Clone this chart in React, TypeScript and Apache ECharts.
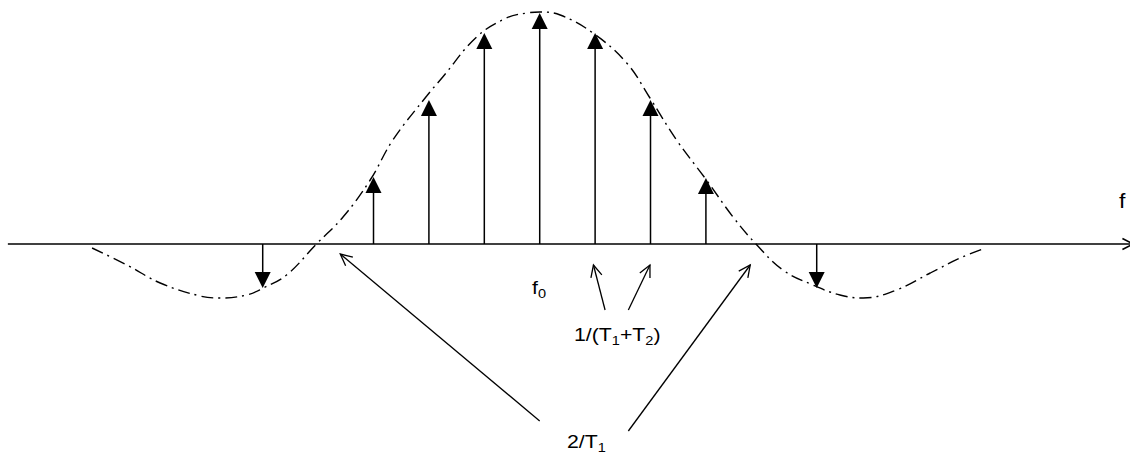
import React, { useEffect, useRef } from "react";
import * as echarts from "echarts";

// Spectral lines: offset from f0 in units of 1/(T1+T2), and amplitude
const lineOffsets = [-5, -3, -2, -1, 0, 1, 2, 3, 5];
const lineAmplitudes = [-44, 67, 144, 211, 231, 211, 144, 66, -44];

// Envelope (dash-dot)
const envelopeOffsets = [
  -8.08, -7.45, -6.85, -6.13, -5.77, -5.29, -4.99, -4.57, -4.03, -3.55, -3.06,
  -2.65, -2.04, -1.75, -1.14, -0.6, -0.23, 0, 0.37, 0.96, 1.57, 1.99, 2.47,
  3.01, 3.49, 3.92, 4.39, 4.93, 5.42, 5.84, 6.44, 7.05, 7.59, 8.0,
];
const envelopeValues = [
  -4, -21, -39, -52, -54, -51, -44, -31, 0, 27, 64, 104, 148, 167, 207, 226,
  231, 232, 229, 211, 181, 146, 104, 64, 27, -1, -26, -41, -51, -54, -46, -29,
  -14, -5,
];

// Frequency axis extent
const axisStart = -9.6;
const axisEnd = 10.71;

// Annotation arrows (tail -> tip)
const arrowFromK = [0, 1.6, 1.18, 1.6];
const arrowFromA = [-177, -187, -66, -66];
const arrowToK = [-3.6, 3.8, 0.97, 1.99];
const arrowToA = [-10, -21, -21, -21];

const X_MIN = -9.742;
const X_MAX = 10.655;
const Y_MIN = -214;
const Y_MAX = 244;

const FONT = '"Liberation Sans", Arial, Helvetica, sans-serif';

function openHead(tip: number[], tail: number[], len: number, ang: number) {
  const dx = tail[0] - tip[0];
  const dy = tail[1] - tip[1];
  const d = Math.sqrt(dx * dx + dy * dy) || 1;
  const ux = dx / d;
  const uy = dy / d;
  const rot = (a: number) => [
    tip[0] + len * (ux * Math.cos(a) - uy * Math.sin(a)),
    tip[1] + len * (ux * Math.sin(a) + uy * Math.cos(a)),
  ];
  return [rot(ang), tip, rot(-ang)];
}

export default function App() {
  const ref = useRef<HTMLDivElement>(null);
  useEffect(() => {
    if (!ref.current) return;
    const chart = echarts.init(ref.current, undefined, { renderer: "svg" });
    const stroke = "#000";
    const sub = { fontSize: 13, fontFamily: FONT, fill: stroke, padding: [14, 0, 0, 0] };
    chart.setOption({
      animation: false,
      backgroundColor: "#fff",
      grid: { left: 0, right: 0, top: 0, bottom: 0, containLabel: false },
      xAxis: { type: "value", min: X_MIN, max: X_MAX, show: false },
      yAxis: { type: "value", min: Y_MIN, max: Y_MAX, show: false },
      series: [
        {
          type: "custom",
          clip: false,
          silent: true,
          data: [[axisStart, 0, axisEnd, 0]],
          encode: { x: [0, 2], y: [1, 3] },
          renderItem: (params: any, api: any) => {
            const a = api.coord([api.value(0), api.value(1)]);
            const b = api.coord([api.value(2), api.value(3)]);
            return {
              type: "group",
              children: [
                {
                  type: "line",
                  shape: { x1: a[0], y1: a[1], x2: b[0], y2: b[1] },
                  style: { stroke, lineWidth: 1.7 },
                },
                {
                  type: "polyline",
                  shape: { points: openHead(b, a, 12, Math.PI / 6.5) },
                  style: { stroke, lineWidth: 1.6, fill: "none" },
                },
              ],
            };
          },
        },
        {
          type: "line",
          data: envelopeOffsets.map((k, i) => [k, envelopeValues[i]]),
          smooth: 0.4,
          symbol: "none",
          silent: true,
          lineStyle: { color: stroke, width: 1.4, type: [12, 5, 2, 5] },
        },
        {
          type: "custom",
          clip: false,
          silent: true,
          data: lineOffsets.map((k, i) => [k, lineAmplitudes[i]]),
          encode: { x: 0, y: 1 },
          renderItem: (params: any, api: any) => {
            const k = api.value(0);
            const v = api.value(1);
            const base = api.coord([k, 0]);
            const tip = api.coord([k, v]);
            const dir = tip[1] < base[1] ? -1 : 1;
            const headH = 16;
            const headW = 8;
            const hb = tip[1] - dir * headH;
            return {
              type: "group",
              children: [
                {
                  type: "line",
                  shape: { x1: base[0], y1: base[1], x2: tip[0], y2: hb },
                  style: { stroke, lineWidth: 1.5 },
                },
                {
                  type: "polygon",
                  shape: {
                    points: [
                      [tip[0], tip[1]],
                      [tip[0] - headW, hb],
                      [tip[0] + headW, hb],
                    ],
                  },
                  style: { fill: stroke },
                },
              ],
            };
          },
        },
        {
          type: "custom",
          clip: false,
          silent: true,
          data: arrowFromK.map((k, i) => [k, arrowFromA[i], arrowToK[i], arrowToA[i]]),
          encode: { x: [0, 2], y: [1, 3] },
          renderItem: (params: any, api: any) => {
            const a = api.coord([api.value(0), api.value(1)]);
            const b = api.coord([api.value(2), api.value(3)]);
            return {
              type: "group",
              children: [
                {
                  type: "line",
                  shape: { x1: a[0], y1: a[1], x2: b[0], y2: b[1] },
                  style: { stroke, lineWidth: 1.3 },
                },
                {
                  type: "polyline",
                  shape: { points: openHead(b, a, 13, Math.PI / 7) },
                  style: { stroke, lineWidth: 1.3, fill: "none" },
                },
              ],
            };
          },
        },
      ],
      graphic: [
        {
          type: "text",
          x: 1119,
          y: 201,
          scaleX: 1.1,
          style: {
            text: "f",
            fontSize: 21,
            fontFamily: FONT,
            fill: stroke,
            verticalAlign: "middle",
            align: "left",
          },
        },
        {
          type: "text",
          x: 532,
          y: 287,
          scaleX: 1.12,
          style: {
            text: "f{s|0}",
            fontSize: 19,
            fontFamily: FONT,
            fill: stroke,
            verticalAlign: "middle",
            align: "left",
            rich: { s: sub },
          },
        },
        {
          type: "text",
          x: 574,
          y: 334,
          scaleX: 1.12,
          style: {
            text: "1/(T{s|1}+T{s|2})",
            fontSize: 19,
            fontFamily: FONT,
            fill: stroke,
            verticalAlign: "middle",
            align: "left",
            rich: { s: sub },
          },
        },
        {
          type: "text",
          x: 567,
          y: 441,
          scaleX: 1.12,
          style: {
            text: "2/T{s|1}",
            fontSize: 19,
            fontFamily: FONT,
            fill: stroke,
            verticalAlign: "middle",
            align: "left",
            rich: { s: sub },
          },
        },
      ],
    });
    return () => chart.dispose();
  }, []);
  return (
    <div
      ref={ref}
      style={{ position: "absolute", left: 0, top: 0, width: 1130, height: 458 }}
    />
  );
}
